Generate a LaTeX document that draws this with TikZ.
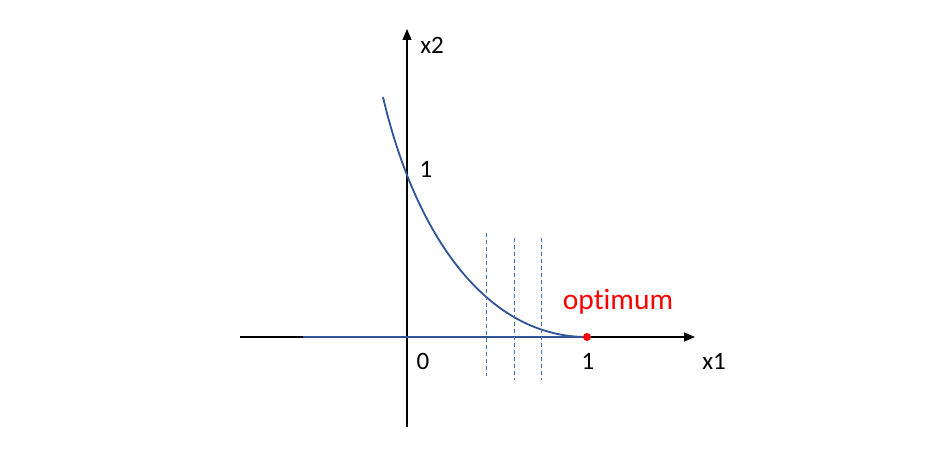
\documentclass[tikz,border=0pt]{standalone}
\usepackage{fontspec}
\setmainfont{Carlito}[Ligatures=NoCommon]
\usetikzlibrary{arrows.meta}
\definecolor{curveblue}{HTML}{2F5597}
\definecolor{dashblue}{HTML}{4472C4}
\definecolor{optred}{HTML}{FF0000}
\tikzset{
  axis/.style={line width=1.2pt, black, -{Triangle[length=11pt,width=9pt]}},
  curve/.style={line width=1.8pt, curveblue},
  guide/.style={line width=0.8pt, dashblue, dash pattern=on 4pt off 3pt},
  lbl/.style={font=\fontsize{25}{28}\selectfont, inner sep=0pt},
  optlbl/.style={font=\fontsize{29.5}{33}\selectfont, text=optred, inner sep=0pt},
}
\begin{document}
\begin{tikzpicture}[x=1pt,y=-1pt]
\useasboundingbox[fill=white] (0,0) rectangle (931,460);
% coordinates
\coordinate (xs) at (240,337);
\coordinate (xe) at (695,337);
\coordinate (ys) at (407,427);
\coordinate (ye) at (407,29);
\coordinate (bs) at (303,337);
\coordinate (cs) at (383,97);
\coordinate (opt) at (587,337);
\coordinate (d1t) at (486,233); \coordinate (d1b) at (486,376);
\coordinate (d2t) at (514,238); \coordinate (d2b) at (514,380);
\coordinate (d3t) at (541,238); \coordinate (d3b) at (541,380);
% axes
\draw[axis] (xs) -- (xe);
\draw[axis] (ys) -- (ye);
% blue segment on x axis
\draw[curve] (bs) -- (opt);
% curve
\draw[curve] (cs) .. controls (416,238) and (488,337) .. (opt);
% dashed guides
\draw[guide] (d1t) -- (d1b);
\draw[guide] (d2t) -- (d2b);
\draw[guide] (d3t) -- (d3b);
% optimum dot
\node[circle, fill=optred, inner sep=0pt, minimum size=8pt] (dot) at (opt) {};
% labels
\node[lbl] (lx2) at (432,45) {x2};
\node[lbl] (ly1) at (426,169) {1};
\node[lbl] (l0) at (423,361) {0};
\node[lbl] (lx1one) at (588,361) {1};
\node[lbl] (lx1) at (714,361) {x1};
\node[optlbl] (lopt) at (618,302) {optimum};
\end{tikzpicture}
\end{document}
